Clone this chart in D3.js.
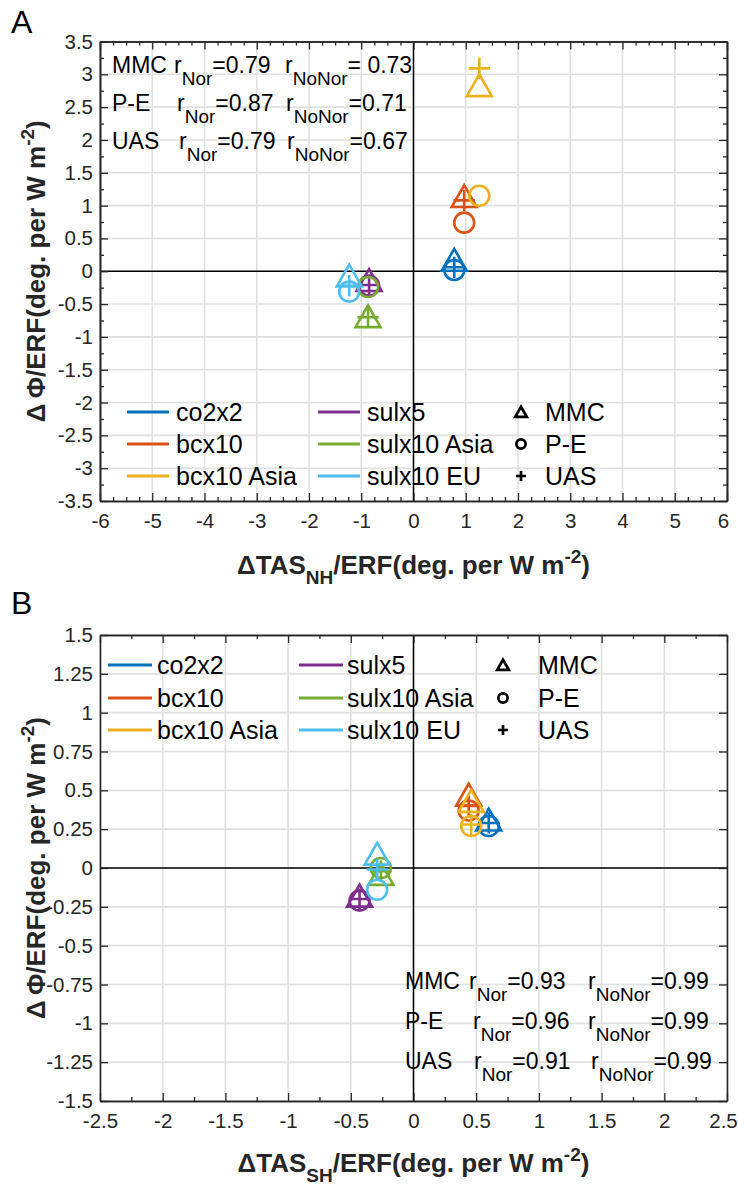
<!DOCTYPE html>
<html><head><meta charset="utf-8">
<script src="https://cdn.jsdelivr.net/npm/d3@7"></script>
<style>body{margin:0;background:#fff}svg{display:block;font-family:"Liberation Sans",Arial,Helvetica,sans-serif}</style>
</head><body><svg id="c" width="738" height="1188"></svg>
<script>
// ---------- data ----------
const scenarios = ["co2x2","bcx10","bcx10 Asia","sulx5","sulx10 Asia","sulx10 EU"];
const scenarioColors = ["#0072BD","#D95319","#EDB120","#7E2F8E","#77AC30","#4DBEEE"];
const metrics = ["MMC","P-E","UAS"];
const metricShapes = ["triangle","circle","plus"];

// Panel A (NH)
const nhTAS = [0.78, 0.97, 1.26, -0.85, -0.87, -1.23];
const nhMMC = [0.17, 1.14, 2.83, -0.14, -0.69, -0.07];
const nhPE  = [0.02, 0.74, 1.15, -0.22, -0.24, -0.31];
const nhUAS = [0.06, 1.08, 3.09, -0.21, -0.70, -0.22];
const nhXTicks = [-6,-5,-4,-3,-2,-1,0,1,2,3,4,5,6];
const nhYTicks = [-3.5,-3,-2.5,-2,-1.5,-1,-0.5,0,0.5,1,1.5,2,2.5,3,3.5];
const nhRNor = ["0.79","0.87","0.79"];
const nhRNoNor = [" 0.73","0.71","0.67"];

// Panel B (SH)
const shTAS = [0.60, 0.44, 0.46, -0.43, -0.26, -0.29];
const shMMC = [0.31, 0.47, 0.43, -0.18, -0.04, 0.09];
const shPE  = [0.27, 0.37, 0.27, -0.21, 0.00, -0.14];
const shUAS = [0.29, 0.40, 0.28, -0.20, -0.02, -0.01];
const shXTicks = [-2.5,-2,-1.5,-1,-0.5,0,0.5,1,1.5,2,2.5];
const shYTicks = [-1.5,-1.25,-1,-0.75,-0.5,-0.25,0,0.25,0.5,0.75,1,1.25,1.5];
const shRNor = ["0.93","0.96","0.91"];
const shRNoNor = ["0.99","0.99","0.99"];

// ---------- drawing ----------
const svg = d3.select("#c");
svg.append("rect").attr("width",738).attr("height",1188).attr("fill","#fff");
const AX = "#262626";

function shapePath(shape, s) {
  if (shape === "triangle") return `M0,${-s*0.9}L${s},${s*0.85}L${-s},${s*0.85}Z`;
  if (shape === "circle") return d3.arc()({innerRadius:0,outerRadius:s*0.8,startAngle:0,endAngle:2*Math.PI});
  return `M${-s*0.85},0H${s*0.85}M0,${-s*0.85}V${s*0.85}`;
}

function minorTicks(major, n) {
  const out = [];
  for (let i = 0; i < major.length - 1; i++) {
    const a = major[i], b = major[i+1];
    for (let k = 1; k < n; k++) out.push(a + (b - a) * k / n);
  }
  return out;
}

function drawPanel(p) {
  const g = svg.append("g");
  const x = d3.scaleLinear().domain(d3.extent(p.xTicks)).range([p.left, p.right]);
  const y = d3.scaleLinear().domain(d3.extent(p.yTicks)).range([p.bottom, p.top]);

  // grid
  g.append("g").selectAll("line").data(p.xTicks).join("line")
    .attr("x1", d => x(d)).attr("x2", d => x(d)).attr("y1", p.top).attr("y2", p.bottom)
    .attr("stroke", "#e0e0e0").attr("stroke-width", 1.6);
  g.append("g").selectAll("line").data(p.yTicks).join("line")
    .attr("y1", d => y(d)).attr("y2", d => y(d)).attr("x1", p.left).attr("x2", p.right)
    .attr("stroke", "#e0e0e0").attr("stroke-width", 1.6);

  // zero lines
  g.append("line").attr("x1", x(0)).attr("x2", x(0)).attr("y1", p.top).attr("y2", p.bottom)
    .attr("stroke", "#000").attr("stroke-width", 1.5);
  g.append("line").attr("y1", y(0)).attr("y2", y(0)).attr("x1", p.left).attr("x2", p.right)
    .attr("stroke", "#000").attr("stroke-width", 1.5);

  // markers
  const pts = [];
  scenarios.forEach((s, i) => {
    p.ys.forEach((arr, m) => pts.push({x: p.xs[i], y: arr[i], color: scenarioColors[i], shape: metricShapes[m]}));
  });
  g.append("g").selectAll("path").data(pts).join("path")
    .attr("transform", d => `translate(${x(d.x)},${y(d.y)})`)
    .attr("d", d => shapePath(d.shape, 12.5))
    .attr("fill", "none").attr("stroke", d => d.color).attr("stroke-width", 2.6)
    .attr("stroke-linejoin", "miter");

  // axes
  const fmt = d => String(d);
  const mk = (axisFn, scale, ticks, size, labels) => axisFn(scale).tickValues(ticks)
    .tickSize(size).tickSizeOuter(0).tickPadding(8).tickFormat(labels ? fmt : "");
  const style = sel => {
    sel.selectAll("path.domain").attr("stroke", AX).attr("stroke-width", 1.6);
    sel.selectAll(".tick line").attr("stroke", AX).attr("stroke-width", 1.3);
    sel.selectAll("text").attr("fill", AX).attr("font-size", 20.5).attr("font-family", null);
  };
  const bottom = g.append("g").attr("transform", `translate(0,${p.bottom})`);
  bottom.call(mk(d3.axisBottom, x, p.xTicks, -8, true)); style(bottom);
  bottom.selectAll("text").attr("dy", "0.71em").attr("y", 12);
  // keep the last label inside the canvas, as in the reference
  bottom.selectAll(".tick").filter((d, i, n) => i === n.length - 1).select("text").attr("x", -4);
  const bMin = g.append("g").attr("transform", `translate(0,${p.bottom})`);
  bMin.call(mk(d3.axisBottom, x, minorTicks(p.xTicks, p.xMinor), -4, false)); style(bMin);
  const top = g.append("g").attr("transform", `translate(0,${p.top})`);
  top.call(mk(d3.axisTop, x, p.xTicks, -8, false)); style(top);
  const tMin = g.append("g").attr("transform", `translate(0,${p.top})`);
  tMin.call(mk(d3.axisTop, x, minorTicks(p.xTicks, p.xMinor), -4, false)); style(tMin);
  const left = g.append("g").attr("transform", `translate(${p.left},0)`);
  left.call(mk(d3.axisLeft, y, p.yTicks, -8, true)); style(left);
  left.selectAll("text").attr("x", -7);
  const right = g.append("g").attr("transform", `translate(${p.right},0)`);
  right.call(mk(d3.axisRight, y, p.yTicks, -8, false)); style(right);
  if (p.yMinor > 1) {
    const lMin = g.append("g").attr("transform", `translate(${p.left},0)`);
    lMin.call(mk(d3.axisLeft, y, minorTicks(p.yTicks, p.yMinor), -4, false)); style(lMin);
    const rMin = g.append("g").attr("transform", `translate(${p.right},0)`);
    rMin.call(mk(d3.axisRight, y, minorTicks(p.yTicks, p.yMinor), -4, false)); style(rMin);
  }

  // axis titles
  const xt = g.append("text").attr("x", (p.left + p.right) / 2).attr("y", p.xTitleY)
    .attr("text-anchor", "middle").attr("font-weight", "bold").attr("font-size", 26).attr("fill", AX);
  xt.append("tspan").text("\u0394TAS");
  xt.append("tspan").attr("font-size", 19).attr("dy", 10).text(p.xSub);
  xt.append("tspan").attr("dy", -10).text("/ERF(deg. per W m");
  xt.append("tspan").attr("font-size", 19).attr("dy", -11).text("-2");
  xt.append("tspan").attr("dy", 11).text(")");

  const cy = (p.top + p.bottom) / 2;
  const yt = g.append("text").attr("transform", `translate(${p.yTitleX},${cy}) rotate(-90)`)
    .attr("text-anchor", "middle").attr("font-weight", "bold").attr("font-size", 26).attr("fill", AX);
  yt.append("tspan").text("\u0394\u2009\u03A6/ERF(deg. per W m");
  yt.append("tspan").attr("font-size", 19).attr("dy", -11).text("-2");
  yt.append("tspan").attr("dy", 11).text(")");

  // panel letter
  svg.append("text").attr("x", p.letterX).attr("y", p.letterY).attr("font-size", 32)
    .attr("fill", "#000").text(p.letter);

  // legend
  const L = p.legend;
  scenarios.forEach((s, i) => {
    const col = Math.floor(i / 3), row = i % 3;
    const ly = L.rows[row];
    g.append("line").attr("x1", L.lineX[col]).attr("x2", L.lineX[col] + L.lineLen)
      .attr("y1", ly).attr("y2", ly).attr("stroke", scenarioColors[i]).attr("stroke-width", 3);
    g.append("text").attr("x", L.textX[col]).attr("y", ly).attr("dy", "0.36em")
      .attr("font-size", 25).attr("fill", "#000").text(s);
  });
  metrics.forEach((m, k) => {
    const ly = L.rows[k];
    g.append("path").attr("transform", `translate(${L.markX},${ly})`)
      .attr("d", shapePath(metricShapes[k], 5.8)).attr("fill", "none")
      .attr("stroke", "#000").attr("stroke-width", 2.7);
    g.append("text").attr("x", L.mTextX).attr("y", ly).attr("dy", "0.36em")
      .attr("font-size", 25).attr("fill", "#000").text(m);
  });

  // correlation annotation
  const A = p.ann;
  metrics.forEach((m, k) => {
    const t = g.append("text").attr("y", A.rows[k]).attr("font-size", 23).attr("fill", "#000");
    t.append("tspan").attr("x", A.x).text(m);
    t.append("tspan").attr("x", A.r1[k]).text("r");
    t.append("tspan").attr("font-size", 19).attr("dy", 12).text("Nor");
    t.append("tspan").attr("dy", -12).text("=" + p.rNor[k]);
    t.append("tspan").attr("x", A.r2[k]).text("r");
    t.append("tspan").attr("font-size", 19).attr("dy", 12).text("NoNor");
    t.append("tspan").attr("dy", -12).text("=" + p.rNoNor[k]);
  });
}

drawPanel({
  left: 100, right: 727, top: 41.5, bottom: 501,
  xTicks: nhXTicks, yTicks: nhYTicks, xMinor: 4, yMinor: 2,
  xs: nhTAS, ys: [nhMMC, nhPE, nhUAS],
  xSub: "NH", xTitleY: 574, yTitleX: 45,
  letter: "A", letterX: 11, letterY: 33,
  legend: {rows: [412, 444, 476], lineX: [127, 318], lineLen: 42, textX: [176, 367], markX: 521, mTextX: 545},
  ann: {x: 112, rows: [73, 111, 149], r1: [174, 177, 179], r2: [285, 286, 287]},
  rNor: nhRNor, rNoNor: nhRNoNor
});

drawPanel({
  left: 100, right: 727, top: 635, bottom: 1101,
  xTicks: shXTicks, yTicks: shYTicks, xMinor: 2, yMinor: 1,
  xs: shTAS, ys: [shMMC, shPE, shUAS],
  xSub: "SH", xTitleY: 1172, yTitleX: 45,
  letter: "B", letterX: 11, letterY: 614,
  legend: {rows: [665, 698, 730], lineX: [108, 299], lineLen: 44, textX: [157, 347], markX: 503, mTextX: 538},
  ann: {x: 405, rows: [989, 1029, 1069], r1: [469, 473, 474], r2: [588, 588, 591]},
  rNor: shRNor, rNoNor: shRNoNor
});
</script></body></html>
